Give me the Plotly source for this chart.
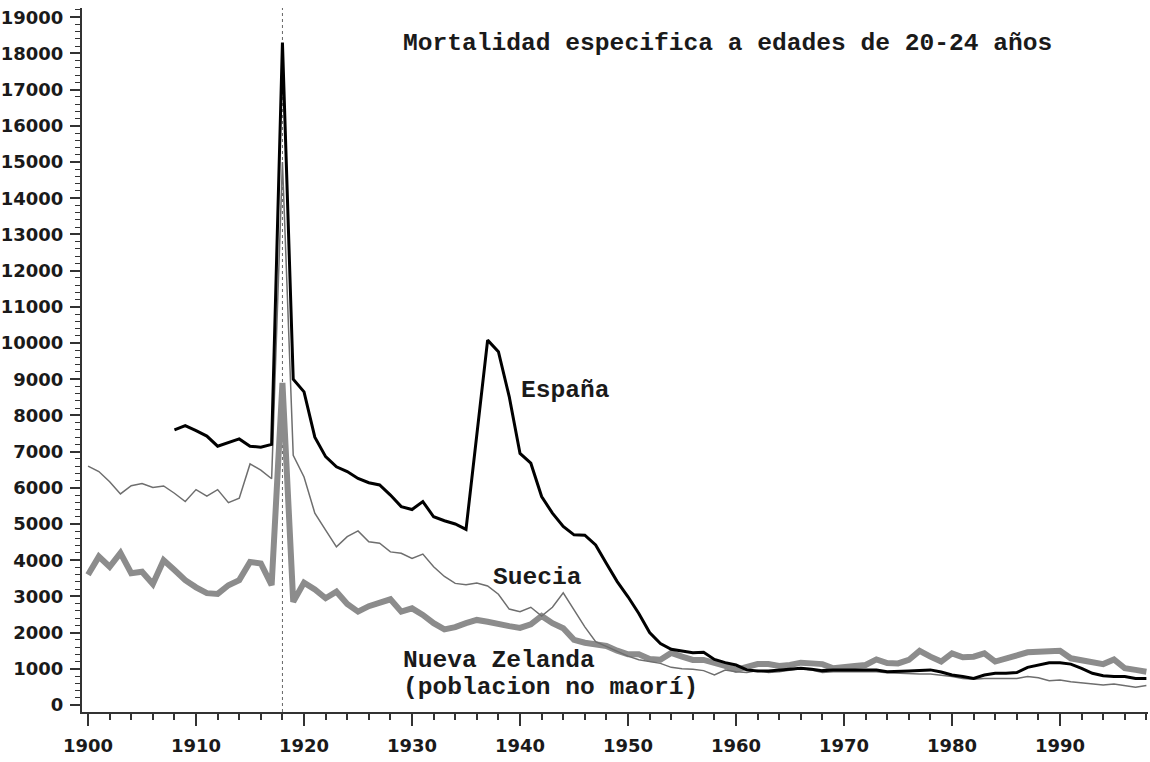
import plotly.graph_objects as go

years = list(range(1900, 1999))

suecia = [6600, 6450, 6170, 5830, 6060, 6120, 6010, 6050, 5850, 5620,
          5950, 5770, 5950, 5590, 5710, 6660, 6490, 6250, 15000, 6900,
          6300, 5300, 4830, 4370, 4650, 4810, 4510, 4470, 4230, 4190,
          4050, 4170, 3820, 3550, 3360, 3320, 3370, 3290, 3060, 2650,
          2580, 2700, 2460, 2700, 3100, 2620, 2160, 1750, 1610, 1470,
          1350, 1250, 1200, 1150, 1040, 1000, 985, 950, 830, 965,
          920, 900, 950, 900, 920, 965, 1010, 965, 900, 920,
          920, 900, 910, 920, 890, 875, 875, 855, 855, 830,
          785, 735, 710, 735, 735, 735, 735, 785, 755, 670,
          690, 645, 615, 600, 550, 580, 525, 490, 540]

nueva_zelanda = [3600, 4100, 3820, 4200, 3640, 3680, 3340, 4000, 3730, 3450,
                 3250, 3090, 3070, 3310, 3450, 3950, 3910, 3310, 8900, 2850,
                 3380, 3190, 2950, 3130, 2790, 2580, 2730, 2810, 2920, 2580,
                 2670, 2490, 2260, 2090, 2150, 2260, 2350, 2300, 2260, 2180,
                 2130, 2230, 2460, 2260, 2120, 1800, 1720, 1660, 1630, 1500,
                 1400, 1400, 1270, 1250, 1440, 1335, 1245, 1245, 1170, 1080,
                 970, 1040, 1130, 1130, 1080, 1105, 1170, 1150, 1130, 1015,
                 1060, 1080, 1105, 1260, 1160, 1150, 1245, 1495, 1335, 1200,
                 1425, 1320, 1335, 1425, 1200, 1290, 1380, 1455, 1470, 1470,
                 1500, 1290, 1245, 1170, 1130, 1260, 1015, 970, 920]

espana_years = list(range(1908, 1999))
espana = [7600, 7720, 7580, 7430, 7150, 7250, 7350, 7150, 7120, 7200,
          18300, 9000, 8650, 7400, 6860, 6580, 6450, 6260, 6140, 6080,
          5800, 5480, 5400, 5620, 5200, 5090, 5000, 4850, 7470, 10080,
          9760, 8520, 6950, 6680, 5760, 5300, 4930, 4700, 4690, 4420,
          3910, 3410, 2990, 2530, 2000, 1700, 1540, 1500, 1445, 1455,
          1260, 1170, 1105, 970, 940, 940, 970, 985, 1015, 985,
          950, 970, 970, 985, 985, 970, 920, 920, 940, 955,
          970, 910, 830, 785, 735, 830, 875, 875, 895, 1040,
          1105, 1170, 1170, 1130, 1015, 875, 810, 785, 785, 735,
          735]

y_ticks = list(range(0, 20000, 1000))
x_ticks = list(range(1900, 2000, 10))

fig = go.Figure()
fig.add_trace(go.Scatter(x=years, y=nueva_zelanda, mode="lines",
                         line=dict(color="#8c8c8c", width=6), name="Nueva Zelanda"))
fig.add_trace(go.Scatter(x=years, y=suecia, mode="lines",
                         line=dict(color="#6e6e6e", width=1.5), name="Suecia"))
fig.add_trace(go.Scatter(x=espana_years, y=espana, mode="lines",
                         line=dict(color="#000000", width=3), name="España"))

fig.add_shape(type="line", x0=1918, x1=1918, y0=0, y1=1, xref="x", yref="paper",
              line=dict(color="#666666", width=1, dash="dot"), layer="below")

mono = dict(family="Liberation Mono", size=24.6, color="#1a1a1a", weight="bold")

def ann(text, x, y):
    fig.add_annotation(text=text, x=x, y=y, xref="x", yref="y", xanchor="left",
                       yanchor="middle", showarrow=False, font=mono, borderpad=0)

ann("Mortalidad especifica a edades de 20-24 años", 1929.1, 18260)
ann("España", 1940.0, 8700)
ann("Suecia", 1937.4, 3510)
ann("Nueva Zelanda", 1929.1, 1243)
ann("(poblacion no maorí)", 1929.1, 497)

tickfont = dict(family="DejaVu Sans", size=18, color="#1a1a1a", weight="bold")

fig.update_xaxes(range=[1899.44, 1998.15], tickvals=x_ticks, ticks="outside",
                 ticklen=12, tickwidth=2, tickcolor="#333333",
                 showline=True, linecolor="#333333", linewidth=2, showgrid=False,
                 zeroline=False, tickfont=tickfont, automargin=False,
                 ticklabelstandoff=4,
                 minor=dict(dtick=2, tick0=1900, ticks="outside", ticklen=6,
                            tickwidth=2, tickcolor="#333333", showgrid=False))
fig.update_yaxes(range=[-193, 19254], tickvals=y_ticks, tickformat="d",
                 ticks="outside", ticklen=10, tickwidth=2, tickcolor="#333333",
                 showline=True, linecolor="#333333", linewidth=2, showgrid=False,
                 zeroline=False, tickfont=tickfont, automargin=False,
                 ticklabelstandoff=3,
                 minor=dict(dtick=200, tick0=0, ticks="outside", ticklen=5,
                            tickwidth=1, tickcolor="#333333", showgrid=False))

fig.update_layout(width=1150, height=762, showlegend=False,
                  plot_bgcolor="white", paper_bgcolor="white",
                  margin=dict(l=82, r=2, t=8, b=50))

fig.write_html("out.html", config={"displayModeBar": False},
               post_script="document.body.style.margin='0';document.body.style.overflow='hidden';")
